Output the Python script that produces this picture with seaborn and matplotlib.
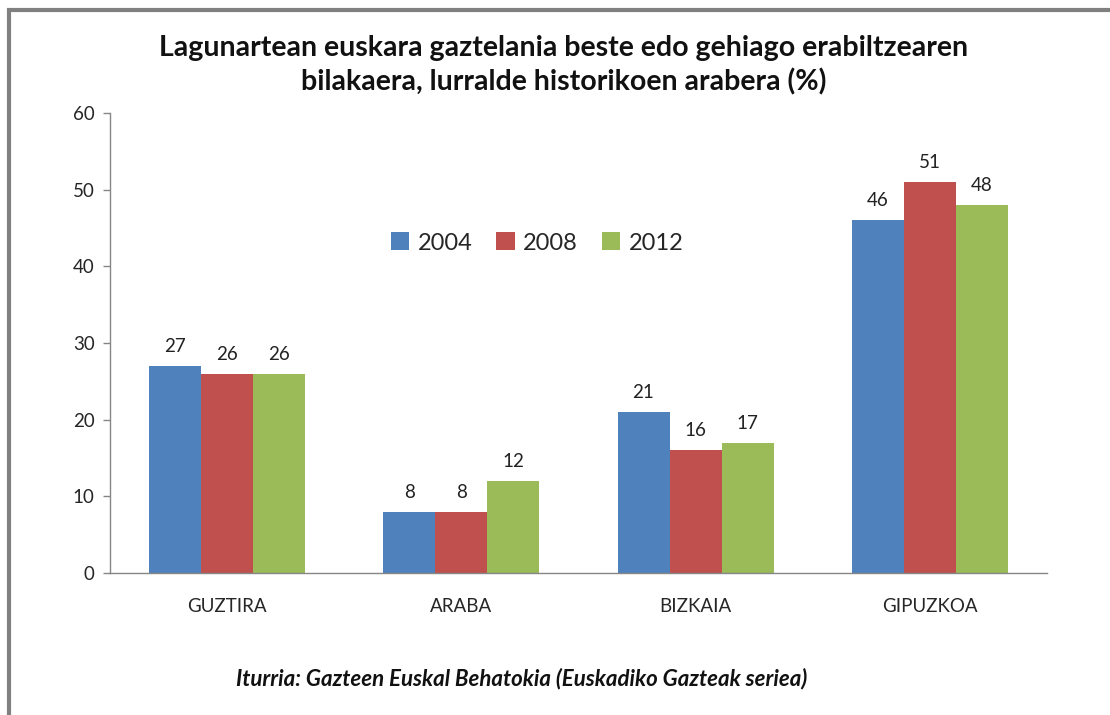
import matplotlib
matplotlib.use("Agg")
import matplotlib.pyplot as plt
import seaborn as sns
import pandas as pd
from matplotlib.patches import Rectangle

categories = ["GUZTIRA", "ARABA", "BIZKAIA", "GIPUZKOA"]
years = ["2004", "2008", "2012"]
values_2004 = [27, 8, 21, 46]
values_2008 = [26, 8, 16, 51]
values_2012 = [26, 12, 17, 48]
colors = ["#4F81BD", "#C0504D", "#9BBB59"]
yticks = [0, 10, 20, 30, 40, 50, 60]

title = "Lagunartean euskara gaztelania beste edo gehiago erabiltzearen\nbilakaera, lurralde historikoen arabera (%)"
footer = "Iturria: Gazteen Euskal Behatokia (Euskadiko Gazteak seriea)"

rows = []
for y, vals in zip(years, [values_2004, values_2008, values_2012]):
    for c, v in zip(categories, vals):
        rows.append({"cat": c, "year": y, "val": v})
df = pd.DataFrame(rows)

sns.set_theme(style="white")
plt.rcParams["font.family"] = ["Lato", "DejaVu Sans"]

fig = plt.figure(figsize=(11.1, 7.15), dpi=100)
fig.patch.set_facecolor("white")
ax = fig.add_axes([110/1110, 1-573/715, 937/1110, 460/715])

sns.barplot(data=df, x="cat", y="val", hue="year", palette=colors,
            saturation=1, width=0.667, ax=ax, errorbar=None, linewidth=0)

for cont in ax.containers:
    ax.bar_label(cont, fmt="%d", padding=8, fontsize=13.5, color="#222222")

ax.set_xlim(-0.5, 3.5)
ax.set_ylim(0, 60)
ax.set_yticks(yticks)
ax.set_yticklabels([str(t) for t in yticks], fontsize=13.5)
ax.set_xlabel("")
ax.set_ylabel("")
ax.tick_params(axis="x", which="major", length=0, pad=18, labelsize=13.5)
ax.set_xticks([-0.5, 0.5, 1.5, 2.5, 3.5], minor=True)
ax.tick_params(axis="x", which="minor", length=6, direction="out", color="#868686", width=1)
ax.tick_params(axis="y", length=5, direction="out", color="#868686", width=1, pad=6, left=True)
for s in ["top", "right"]:
    ax.spines[s].set_visible(False)
for s in ["left", "bottom"]:
    ax.spines[s].set_color("#868686")
    ax.spines[s].set_linewidth(1)

leg = ax.legend(loc="center", bbox_to_anchor=(537/1110, 1-243/715),
                bbox_transform=fig.transFigure, ncol=3, frameon=False,
                fontsize=17, handlelength=0.8, handleheight=0.8,
                handletextpad=0.35, columnspacing=1.0, borderaxespad=0)

fig.text(564/1110, 1-65/715, title, ha="center", va="center",
         fontsize=20.5, fontweight="bold", linespacing=1.35, color="#111111")
fig.text(522/1110, 1-679/715, footer, ha="center", va="center",
         fontsize=16, fontweight="bold", style="italic", color="#111111")

fig.patches.append(Rectangle((9/1110, -0.1), 1.2, (1-10/715)+0.1,
                             transform=fig.transFigure, fill=False,
                             edgecolor="#808080", linewidth=3))

fig.savefig("out.png", dpi=100, facecolor="white")
